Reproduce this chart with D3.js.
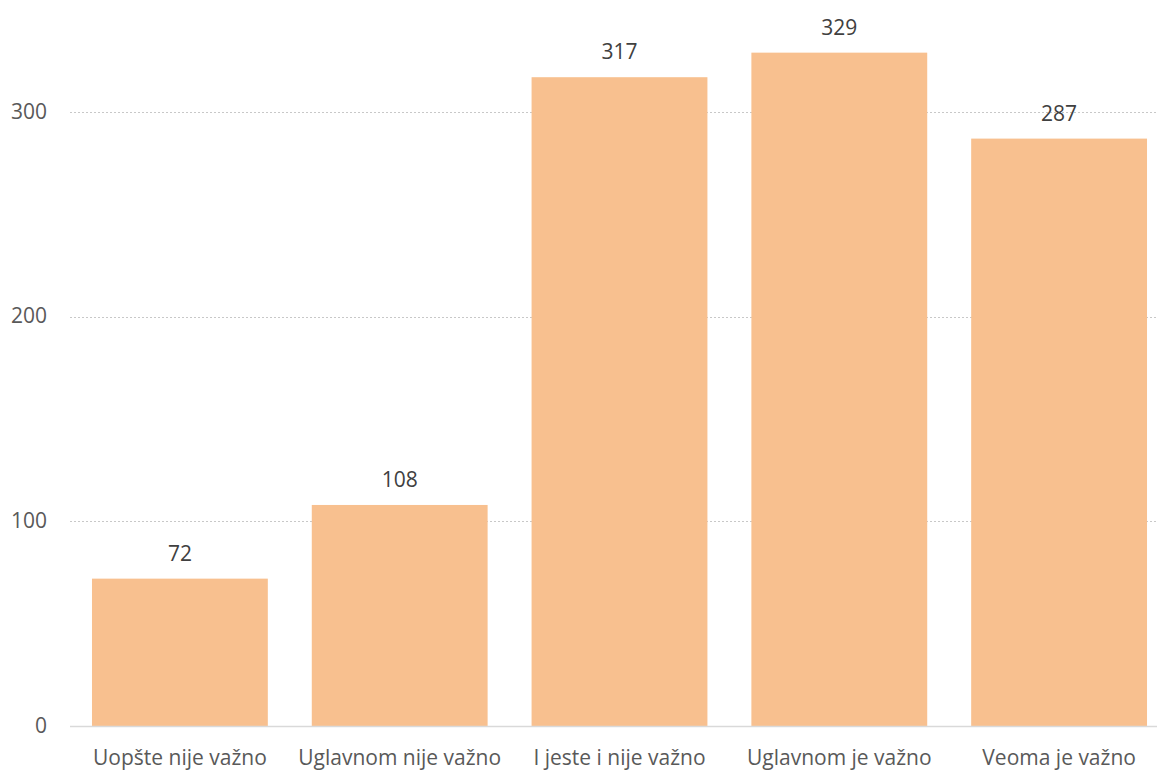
<!DOCTYPE html>
<html>
<head>
<meta charset="utf-8">
<script src="https://cdn.jsdelivr.net/npm/d3@7"></script>
<style>
  html, body { margin: 0; padding: 0; background: #fff; }
  svg { display: block; font-family: "Open Sans", sans-serif; }
</style>
</head>
<body>
<svg id="chart" width="1157" height="771"></svg>
<script>
const categories = ["Uopšte nije važno", "Uglavnom nije važno", "I jeste i nije važno", "Uglavnom je važno", "Veoma je važno"];
const values = [72, 108, 317, 329, 287];
const yTicks = [0, 100, 200, 300];

const svg = d3.select("#chart");
const W = 1157, H = 771;

const x = d3.scaleBand().domain(categories).range([70, 1169]).paddingInner(0.2).paddingOuter(0.1);
const y = d3.scaleLinear().domain([0, 300]).range([726, 112]);

// gridlines
svg.append("g").selectAll("line").data(yTicks.filter(d => d > 0)).join("line")
  .attr("x1", 70).attr("x2", W)
  .attr("y1", d => Math.round(y(d)) + 0.5).attr("y2", d => Math.round(y(d)) + 0.5)
  .attr("stroke", "#c8c8c8").attr("stroke-width", 1).attr("stroke-dasharray", "2,2");

// bars
svg.append("g").selectAll("rect").data(values).join("rect")
  .attr("x", (d, i) => x(categories[i]))
  .attr("width", x.bandwidth())
  .attr("y", d => y(d))
  .attr("height", d => y(0) - y(d))
  .attr("fill", "#f8c08f");

// baseline
svg.append("line").attr("x1", 70).attr("x2", W)
  .attr("y1", Math.round(y(0)) + 0.5).attr("y2", Math.round(y(0)) + 0.5)
  .attr("stroke", "#d9d9d9").attr("stroke-width", 1.5);

// y axis labels
const yAxis = d3.axisLeft(y).tickValues(yTicks).tickSize(0).tickPadding(0);
const gy = svg.append("g").attr("transform", "translate(47,0)").call(yAxis);
gy.select(".domain").remove();
gy.selectAll("text").attr("font-size", 21).attr("fill", "#595959").attr("font-family", "Open Sans, sans-serif")
  .attr("dy", "0.3em");

// x axis labels
const xAxis = d3.axisBottom(x).tickSize(0).tickPadding(0);
const gx = svg.append("g").attr("transform", "translate(0,765)").call(xAxis);
gx.select(".domain").remove();
gx.selectAll("text").attr("font-size", 21).attr("fill", "#595959").attr("font-family", "Open Sans, sans-serif")
  .attr("y", 0).attr("dy", 0);

// data labels
svg.append("g").selectAll("text").data(values).join("text")
  .attr("x", (d, i) => x(categories[i]) + x.bandwidth() / 2)
  .attr("y", d => y(d) - 18)
  .attr("text-anchor", "middle")
  .attr("font-size", 21)
  .attr("fill", "#404040")
  .text(d => d);
</script>
</body>
</html>
